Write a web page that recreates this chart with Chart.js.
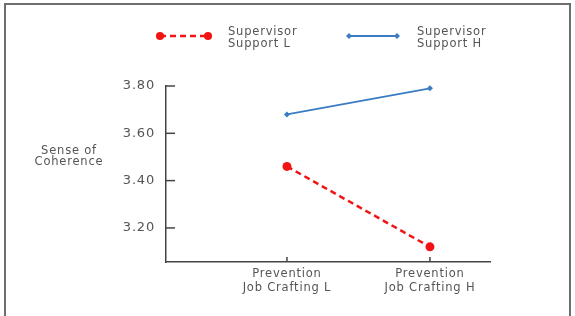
<!DOCTYPE html>
<html>
<head>
<meta charset="utf-8">
<script src="https://cdn.jsdelivr.net/npm/chart.js@4"></script>
<style>
  body { margin: 0; background: #fff; }
  #frame { position: absolute; left: 4px; top: 3px; width: 563px; height: 330px; border: 2px solid #6e6e6e; }
  #wrap { position: absolute; left: 0; top: 0; width: 575px; height: 316px; }
</style>
</head>
<body>
<div id="frame"></div>
<div id="wrap"><canvas id="chart" width="575" height="316"></canvas></div>
<script>
// Catégories et valeurs
const categories = [['Prevention', 'Job Crafting L'], ['Prevention', 'Job Crafting H']];
const categoryPos = [1, 2];
const supportL = [3.46, 3.12];
const supportH = [3.68, 3.79];
const yTicks = [3.20, 3.40, 3.60, 3.80];
const seriesNames = [['Supervisor', 'Support L'], ['Supervisor', 'Support H']];
const yTitle = ['Sense of', 'Coherence'];

const FONT = '"DejaVu Sans", sans-serif';
const TEXT = '#555';

function toPoints(values) {
    return values.map((v, i) => ({ x: categoryPos[i], y: v }));
}

// Légende, titre de l'axe Y et petites graduations intérieures
const decorPlugin = {
    id: 'decor',
    beforeDraw(chart) {
        // texte un peu espacé comme sur la figure
        chart.ctx.letterSpacing = '0.8px';
    },
    afterDraw(chart) {
        const ctx = chart.ctx;
        const area = chart.chartArea;
        const xs = chart.scales.x, ys = chart.scales.y;
        ctx.save();

        // graduations vers l'intérieur
        ctx.strokeStyle = '#444';
        ctx.lineWidth = 1.5;
        yTicks.forEach(v => {
            const py = ys.getPixelForValue(v);
            ctx.beginPath();
            ctx.moveTo(area.left, py);
            ctx.lineTo(area.left + 9, py);
            ctx.stroke();
        });
        categoryPos.forEach(v => {
            const px = xs.getPixelForValue(v);
            ctx.beginPath();
            ctx.moveTo(px, area.bottom);
            ctx.lineTo(px, area.bottom - 5);
            ctx.stroke();
        });

        // titre de l'axe Y, horizontal
        ctx.fillStyle = TEXT;
        ctx.font = '11.5px ' + FONT;
        ctx.textAlign = 'center';
        ctx.textBaseline = 'middle';
        ctx.fillText(yTitle[0], 69, 151);
        ctx.fillText(yTitle[1], 69, 162);

        // légende
        const legendX = [160, 349];
        const legendY = 36;
        chart.data.datasets.forEach((ds, i) => {
            const x0 = legendX[i], x1 = x0 + 48;
            ctx.strokeStyle = ds.borderColor;
            ctx.lineWidth = ds.borderWidth;
            ctx.setLineDash(ds.borderDash || []);
            ctx.beginPath();
            ctx.moveTo(x0, legendY);
            ctx.lineTo(x1, legendY);
            ctx.stroke();
            ctx.setLineDash([]);
            ctx.fillStyle = ds.borderColor;
            [x0, x1].forEach(px => {
                ctx.beginPath();
                if (ds.pointStyle === 'circle') {
                    ctx.arc(px, legendY, 4, 0, Math.PI * 2);
                } else {
                    ctx.moveTo(px - 3, legendY);
                    ctx.lineTo(px, legendY - 3);
                    ctx.lineTo(px + 3, legendY);
                    ctx.lineTo(px, legendY + 3);
                    ctx.closePath();
                }
                ctx.fill();
            });
            ctx.fillStyle = TEXT;
            ctx.font = '11.5px ' + FONT;
            ctx.textAlign = 'left';
            ctx.fillText(seriesNames[i][0], x1 + 20, 32);
            ctx.fillText(seriesNames[i][1], x1 + 20, 44);
        });
        ctx.restore();
    }
};

const ctx = document.getElementById('chart').getContext('2d');
new Chart(ctx, {
    type: 'line',
    data: {
        datasets: [
            {
                label: seriesNames[0].join(' '),
                data: toPoints(supportL),
                borderColor: '#f01414',
                backgroundColor: '#f01414',
                borderWidth: 2.5,
                borderDash: [6, 4],
                pointStyle: 'circle',
                pointRadius: 4.5,
                pointBorderWidth: 0,
                clip: false
            },
            {
                label: seriesNames[1].join(' '),
                data: toPoints(supportH),
                borderColor: '#3b7cc2',
                backgroundColor: '#3b7cc2',
                borderWidth: 2,
                pointStyle: 'rectRot',
                pointRadius: 3,
                pointBorderWidth: 0,
                clip: false
            }
        ]
    },
    options: {
        responsive: false,
        animation: false,
        layout: { padding: { top: 86, right: 85, left: 0, bottom: 0 } },
        plugins: {
            legend: { display: false },
            tooltip: { enabled: false }
        },
        scales: {
            x: {
                type: 'linear',
                min: 0.154,
                max: 2.42,
                afterBuildTicks: s => { s.ticks = categoryPos.map(v => ({ value: v })); },
                afterFit: s => { s.height = 54; },
                grid: { drawOnChartArea: false, drawTicks: false },
                border: { display: true, color: '#444', width: 1.5 },
                ticks: {
                    padding: 5,
                    color: TEXT,
                    font: { family: FONT, size: 11.5 },
                    maxRotation: 0,
                    callback: v => categories[categoryPos.indexOf(v)] || ''
                }
            },
            y: {
                min: 3.056,
                max: 3.80,
                afterBuildTicks: s => { s.ticks = yTicks.map(v => ({ value: v })); },
                afterFit: s => { s.width = 166; },
                grid: { drawOnChartArea: false, drawTicks: false },
                border: { display: true, color: '#444', width: 1.5 },
                ticks: {
                    padding: 11,
                    color: TEXT,
                    font: { family: FONT, size: 13 },
                    callback: v => v.toFixed(2)
                }
            }
        }
    },
    plugins: [decorPlugin]
});
</script>
</body>
</html>
